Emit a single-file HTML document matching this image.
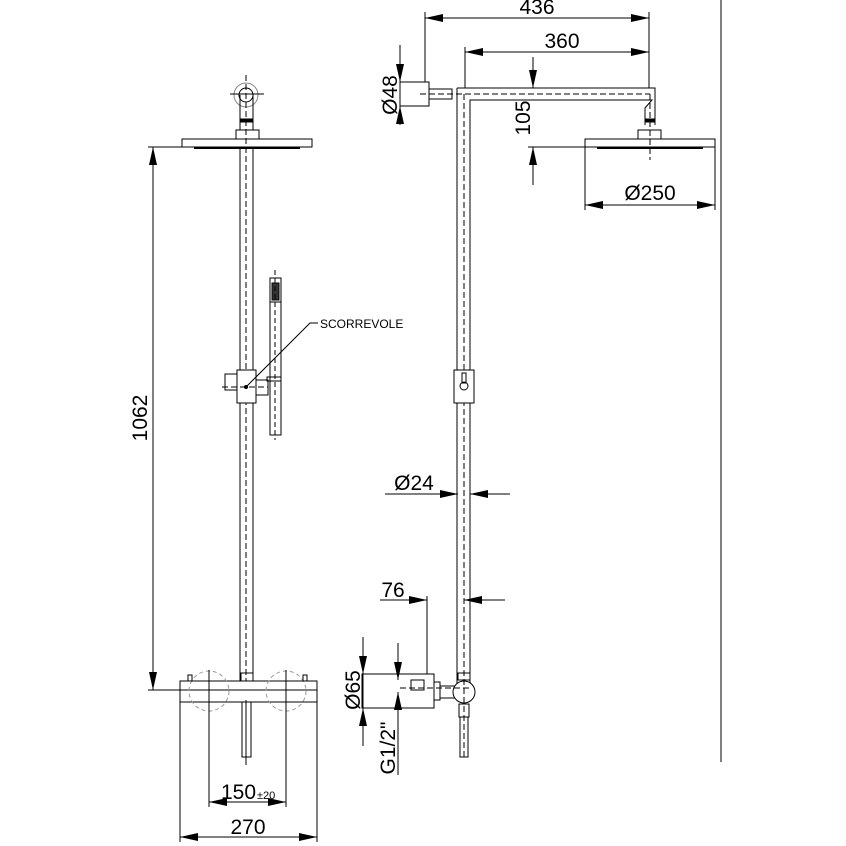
<!DOCTYPE html>
<html><head><meta charset="utf-8"><style>
html,body{margin:0;padding:0;background:#fff}
svg{display:block}
text{font-family:"Liberation Sans",sans-serif;fill:#000}
</style></head><body>
<svg width="846" height="846" viewBox="0 0 846 846" xmlns="http://www.w3.org/2000/svg">
<defs>
<marker id="a" viewBox="0 0 18 8" refX="18" refY="4" markerWidth="18" markerHeight="8" markerUnits="userSpaceOnUse" orient="auto-start-reverse"><path d="M0,0L18,4L0,8Z" fill="#000"/></marker>
</defs>
<g stroke="#000" stroke-width="1" fill="none">
<line x1="721" y1="0" x2="721" y2="762"/>

<circle cx="246" cy="95" r="12" stroke="#888"/>
<circle cx="246" cy="95" r="7"/>
<line x1="230" y1="94" x2="264" y2="94"/>
<line x1="240" y1="95" x2="240" y2="130"/>
<line x1="253" y1="95" x2="253" y2="130"/>
<rect x="240" y="119" width="13" height="3" fill="#000"/>
<rect x="236" y="130" width="23" height="9"/>
<rect x="182" y="139" width="130" height="8"/>
<line x1="194" y1="148" x2="300" y2="148" stroke-width="2"/>
<line x1="240" y1="147" x2="240" y2="681"/>
<line x1="253" y1="147" x2="253" y2="681"/>
<line x1="246" y1="75" x2="246" y2="765" stroke-dasharray="6,3"/>
<rect x="270" y="278" width="11" height="157"/>
<rect x="272" y="283" width="7" height="17" fill="#333"/>
<line x1="270" y1="302" x2="281" y2="302"/>
<line x1="275" y1="270" x2="275" y2="440" stroke-dasharray="5,3"/>
<rect x="267" y="377" width="14" height="4" />
<rect x="237" y="370" width="19" height="33" fill="#fff"/>
<path d="M237 374 L225 374 L225 390 L237 390"/>
<path d="M256 380 L268 380 L268 395 L256 395"/>
<line x1="222" y1="387" x2="268" y2="387" stroke-dasharray="6,3"/>
<polyline points="246,387 310,323 318,323"/>
<circle cx="246" cy="387" r="1.5" fill="#000"/>
<rect x="241" y="673" width="12" height="8"/>
<rect x="180" y="681" width="137" height="21" fill="#fff"/>
<line x1="180" y1="690" x2="317" y2="690"/>
<circle cx="209" cy="691" r="20" stroke="#999" stroke-dasharray="4,3"/>
<circle cx="286" cy="691" r="20" stroke="#999" stroke-dasharray="4,3"/>
<rect x="188" y="675" width="4" height="6"/>
<rect x="303" y="675" width="4" height="6"/>
<rect x="242" y="702" width="9" height="55"/>
<line x1="246" y1="700" x2="246" y2="765" stroke-dasharray="6,3"/>
<line x1="148" y1="147" x2="190" y2="147"/>
<line x1="148" y1="690" x2="180" y2="690"/>
<line x1="153" y1="147" x2="153" y2="690" marker-start="url(#a)" marker-end="url(#a)"/>
<line x1="209" y1="670" x2="209" y2="807"/>
<line x1="286" y1="670" x2="286" y2="807"/>
<line x1="209" y1="802" x2="286" y2="802" marker-start="url(#a)" marker-end="url(#a)"/>
<line x1="180" y1="702" x2="180" y2="842"/>
<line x1="317" y1="702" x2="317" y2="842"/>
<line x1="180" y1="837" x2="317" y2="837" marker-start="url(#a)" marker-end="url(#a)"/>

<rect x="400" y="82" width="29" height="24"/>
<rect x="429" y="89" width="23" height="10"/>
<path d="M457 88 L655 88 L655 125 M645 125 L645 108 L652 100 L470 100 L470 700 M457 88 L457 700"/>
<line x1="420" y1="94" x2="650" y2="94" stroke-dasharray="6,3"/>
<line x1="464" y1="94" x2="464" y2="760" stroke-dasharray="6,3"/>
<line x1="650" y1="94" x2="650" y2="160" stroke-dasharray="6,3"/>
<rect x="645" y="119" width="10" height="3" fill="#000"/>
<rect x="638" y="130" width="23" height="9"/>
<rect x="585" y="139" width="130" height="8"/>
<line x1="597" y1="148" x2="703" y2="148" stroke-width="2"/>
<rect x="454" y="370" width="20" height="33" fill="#fff"/>
<circle cx="464" cy="386" r="4"/>
<rect x="462" y="373" width="4" height="10"/>
<rect x="362" y="674" width="72" height="34"/>
<rect x="411" y="680" width="13" height="10"/>
<rect x="434" y="682" width="6" height="18"/>
<rect x="440" y="686" width="15" height="12"/>
<rect x="458" y="673" width="12" height="7"/>
<circle cx="464" cy="692" r="11" fill="#fff"/>
<rect x="459" y="704" width="10" height="13"/>
<rect x="460" y="717" width="8" height="40"/>
<line x1="400" y1="688" x2="470" y2="688" stroke-dasharray="6,3"/>
<line x1="464" y1="670" x2="464" y2="760" stroke-dasharray="6,3"/>
<line x1="425" y1="12" x2="425" y2="82"/>
<line x1="649" y1="12" x2="649" y2="88"/>
<line x1="425" y1="18" x2="649" y2="18" marker-start="url(#a)" marker-end="url(#a)"/>
<line x1="465" y1="47" x2="465" y2="88"/>
<line x1="465" y1="52" x2="649" y2="52" marker-start="url(#a)" marker-end="url(#a)"/>
<line x1="400" y1="45" x2="400" y2="82" marker-end="url(#a)"/>
<line x1="400" y1="125" x2="400" y2="106" marker-end="url(#a)"/>
<line x1="400" y1="82" x2="400" y2="106"/>
<line x1="533" y1="57" x2="533" y2="88" marker-end="url(#a)"/>
<line x1="533" y1="185" x2="533" y2="147" marker-end="url(#a)"/>
<line x1="528" y1="147" x2="585" y2="147"/>
<line x1="585" y1="147" x2="585" y2="210"/>
<line x1="715" y1="147" x2="715" y2="210"/>
<line x1="585" y1="205" x2="715" y2="205" marker-start="url(#a)" marker-end="url(#a)"/>
<line x1="385" y1="494" x2="458" y2="494" marker-end="url(#a)"/>
<line x1="510" y1="494" x2="470" y2="494" marker-end="url(#a)"/>
<line x1="380" y1="600" x2="427" y2="600" marker-end="url(#a)"/>
<line x1="505" y1="600" x2="464" y2="600" marker-end="url(#a)"/>
<line x1="427" y1="596" x2="427" y2="674"/>
<line x1="363" y1="637" x2="363" y2="674" marker-end="url(#a)"/>
<line x1="363" y1="746" x2="363" y2="708" marker-end="url(#a)"/>
<line x1="363" y1="674" x2="363" y2="708"/>
<line x1="398" y1="643" x2="398" y2="680" marker-end="url(#a)"/>
<line x1="398" y1="775" x2="398" y2="692" marker-end="url(#a)"/>
</g>
<g font-size="21">
<text transform="translate(147,418) rotate(-90)" text-anchor="middle">1062</text>
<text x="320" y="328" font-size="12">SCORREVOLE</text>
<text x="221" y="799">150</text><text x="257" y="799" font-size="11">±20</text>
<text x="248" y="834" text-anchor="middle">270</text>
<text x="537" y="14" text-anchor="middle">436</text>
<text x="562" y="48" text-anchor="middle">360</text>
<text x="650" y="200" text-anchor="middle">Ø250</text>
<text x="414" y="490" text-anchor="middle">Ø24</text>
<text x="393" y="597" text-anchor="middle">76</text>
<text transform="translate(397,95) rotate(-90)" text-anchor="middle">Ø48</text>
<text transform="translate(530,118) rotate(-90)" text-anchor="middle">105</text>
<text transform="translate(360,690) rotate(-90)" text-anchor="middle">Ø65</text>
<text transform="translate(395,748) rotate(-90)" text-anchor="middle">G1/2"</text>
</g>
</svg>
</body></html>
